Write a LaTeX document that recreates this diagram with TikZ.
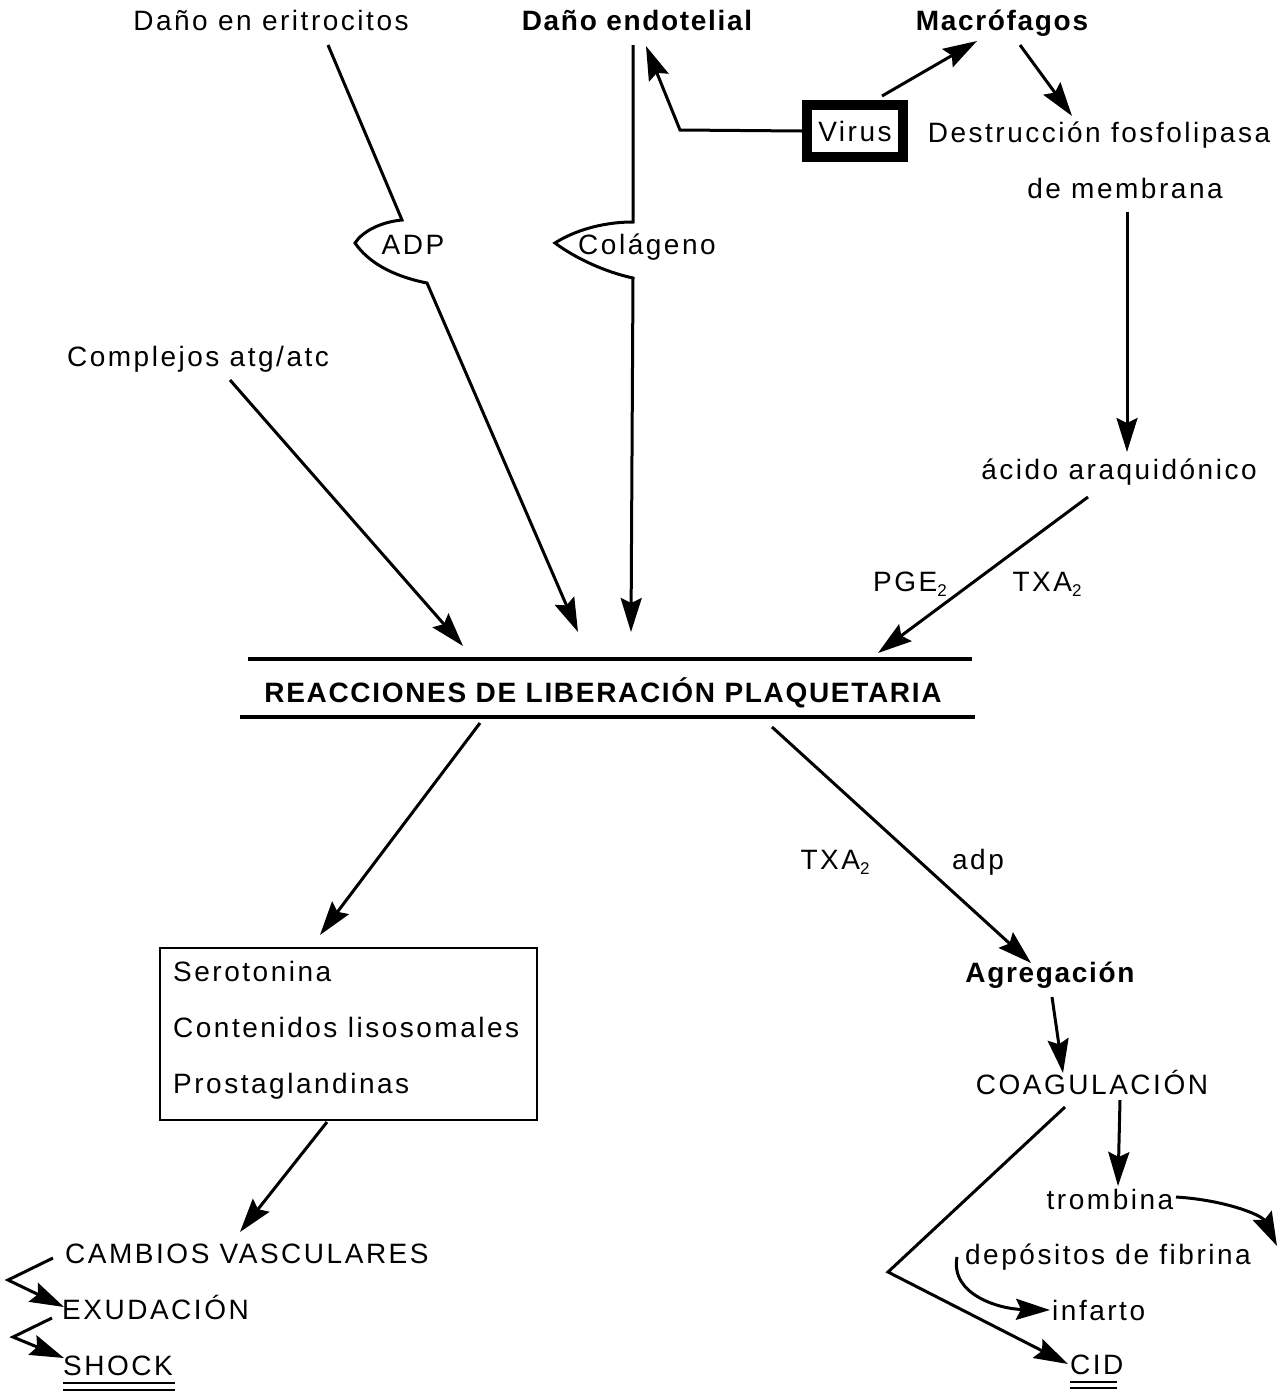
\documentclass[tikz,border=0pt]{standalone}
\usepackage{fontspec}
\setmainfont{Liberation Sans}[LetterSpace=9, BoldFeatures={LetterSpace=6}]
\usetikzlibrary{arrows.meta,calc}
\newcommand{\subtwo}{\raisebox{-5pt}{\fontsize{17}{18}\selectfont 2}}
\begin{document}
\begin{tikzpicture}[x=1pt,y=-1pt,
  every node/.style={font=\fontsize{28}{32}\selectfont, inner sep=0pt},
  bf/.style={font=\fontsize{28}{32}\selectfont\bfseries},
  arr/.style={-{Stealth[length=34pt,width=21pt,inset=5pt]}, line width=3pt},
  ln/.style={line width=3.2pt},
  lbl/.style={anchor=base}]
\useasboundingbox (0,0) rectangle (1282,1393);
% --- texts
\node[lbl] (dan1) at (271,30) {Daño en eritrocitos};
\node[lbl,bf] (dend) at (637,30) {Daño endotelial};
\node[lbl,bf] (macro) at (1002,30) {Macrófagos};
\node[draw,line width=10pt,minimum width=96pt,minimum height=52pt] (virus) at (855,131) {Virus};
\node[lbl] (destr) at (1099,142) {Destrucción fosfolipasa};
\node[lbl] (demem) at (1125,198) {de membrana};
\node[lbl] (adp) at (413,254) {ADP};
\node[lbl] (col) at (647,254) {Colágeno};
\node[lbl] (compl) at (198,366) {Complejos atg/atc};
\node[lbl] (acido) at (1119,479) {ácido araquidónico};
\node[lbl] (pge) at (910,591) {PGE\subtwo};
\node[lbl] (txa) at (1047,591) {TXA\subtwo};
\node[lbl,bf] (rlp) at (603,702) {REACCIONES DE LIBERACIÓN PLAQUETARIA};
\coordinate (barTL) at (248,659); \coordinate (barTR) at (972,659);
\coordinate (barBL) at (240,717); \coordinate (barBR) at (975,717);
\node[draw,line width=2pt,minimum width=377pt,minimum height=172pt] (box) at (348.5,1034) {};
\node[lbl,anchor=base west] (sero) at (173,981) {Serotonina};
\node[lbl,anchor=base west] (cont) at (173,1037) {Contenidos lisosomales};
\node[lbl,anchor=base west] (prost) at (173,1093) {Prostaglandinas};
\node[lbl,anchor=base west] (camb) at (65,1263) {CAMBIOS VASCULARES};
\node[lbl,anchor=base west] (exud) at (62,1319) {EXUDACIÓN};
\node[lbl,anchor=base west] (shock) at (63,1375) {SHOCK};
\node[lbl] (txa2) at (835,869) {TXA\subtwo};
\node[lbl] (adp2) at (978,869) {adp};
\node[lbl,bf] (agreg) at (1050,982) {Agregación};
\node[lbl] (coag) at (1092,1094) {COAGULACIÓN};
\node[lbl] (tromb) at (1110,1209) {trombina};
\node[lbl] (depos) at (1108,1264) {depósitos de fibrina};
\node[lbl,anchor=base west] (inf) at (1052,1320) {infarto};
\node[lbl,anchor=base west] (cid) at (1070,1374) {CID};
% --- bars
\draw[ln] (barTL) -- (barTR);
\draw[ln] (barBL) -- (barBR);
% --- underlines
\draw[line width=2.8pt] (shock.base west)++(0,8) -- ++(112,0);
\draw[line width=2.8pt] (shock.base west)++(0,15) -- ++(112,0);
\draw[line width=2.8pt] (cid.base west)++(0,8) -- ++(47,0);
\draw[line width=2.8pt] (cid.base west)++(0,14) -- ++(47,0);
% --- connectors
\draw[arr] (328,45) -- (402,220) .. controls (380,222) and (362,232) .. (355,243)
   .. controls (368,262) and (392,276) .. (427,283) -- (578,632);
\draw[arr] (633,45) -- (633,222) .. controls (600,222) and (572,232) .. (555,243)
   .. controls (575,258) and (605,272) .. (633,278) -- (631,632);
\draw[arr] (virus.west) -- (680,130) -- (646,46);
\draw[arr] (virus.north) ++(27,-4) -- (977,41);
\draw[arr] (1020,45) -- (1072,116);
\draw[arr] (1127,212) -- (1127,452);
\draw[arr] (230,380) -- (463,646);
\draw[arr] (1088,497) -- (878,653);
\draw[arr] (480,723) -- (320,935);
\draw[arr] (327,1122) -- (240,1232);
\draw[arr] (772,727) -- (1031,963);
\draw[arr] (1052,997) -- (1063,1073);
\draw[arr] (1120,1100) -- (1118,1186);
\draw[arr] (1176,1197) .. controls (1225,1200) and (1262,1215) .. (1277,1246);
\draw[arr] (957,1257) .. controls (950,1295) and (1000,1309) .. (1050,1310);
\draw[arr] (1065,1107) -- (888,1272) -- (1068,1364);
\draw[arr] (53,1258) -- (8,1280) -- (64,1307);
\draw[arr] (52,1318) -- (13,1337) -- (64,1358);
\end{tikzpicture}
\end{document}
